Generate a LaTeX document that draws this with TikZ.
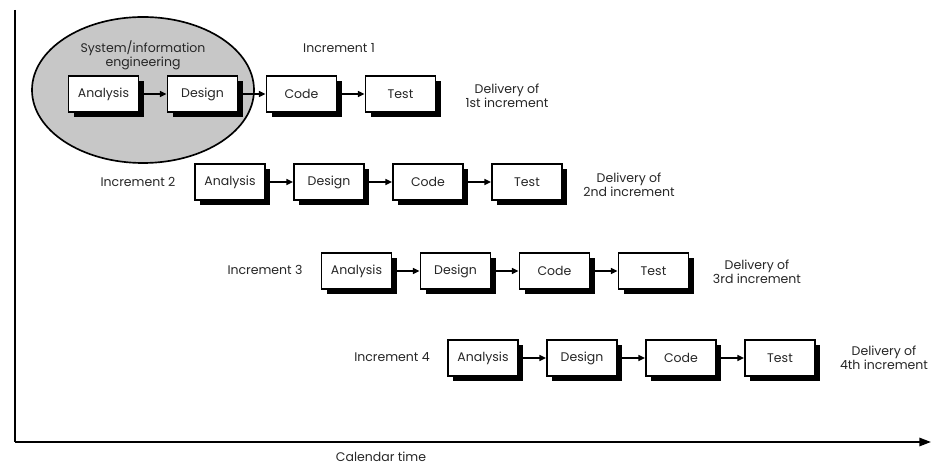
\documentclass[tikz,border=0pt]{standalone}
\usepackage{fontspec}
\setmainfont{Poppins}
\usetikzlibrary{arrows.meta,shadows}

\begin{document}
\begin{tikzpicture}[%
      x=0.6pt, y=-0.6pt,
      every node/.style={font=\fontsize{7.5}{8.5}\selectfont, text=black!85},
      phase/.style={draw=black, line width=1.1pt, fill=white, minimum width=42pt,
        minimum height=22pt, inner sep=0pt,
        drop shadow={shadow xshift=3pt, shadow yshift=-3pt, fill=black, opacity=1}},
      flow/.style={line width=1pt, -{Triangle[length=4pt,width=3.5pt]}},
      ]
      \useasboundingbox (0,0) rectangle (933,464);

      \coordinate (ytop) at (15,10);
      \coordinate (origin) at (15,442);
      \coordinate (xend) at (931,442);
      \draw [line width=1.2pt] (ytop) -- (origin);
      \draw [line width=1.2pt, -{Triangle[length=7pt,width=5pt]}] (origin) -- (xend);
      \node (caltime) at (381,457) {Calendar time};

      \filldraw [fill=black!22, draw=black, line width=1pt] (143,90) ellipse [x radius=111, y radius=73];
      \node [align=center] (sysinfo) at (143,55) {System/information\\engineering};

      \node (inc1) at (339,48) {Increment 1};
      \node [phase] (a1) at (103.5,94) {Analysis};
      \node [phase] (d1) at (202.5,94) {Design};
      \node [phase] (c1) at (301.5,94) {Code};
      \node [phase] (t1) at (400.5,94) {Test};
      \node [align=center] (del1) at (507,96) {Delivery of\\1st increment};
      \draw [flow] (a1) -- (d1);
      \draw [flow] (d1) -- (c1);
      \draw [flow] (c1) -- (t1);

      \node (inc2) at (138,182) {Increment 2};
      \node [phase] (a2) at (230,182) {Analysis};
      \node [phase] (d2) at (329,182) {Design};
      \node [phase] (c2) at (428,182) {Code};
      \node [phase] (t2) at (527,182) {Test};
      \node [align=center] (del2) at (629,185) {Delivery of\\2nd increment};
      \draw [flow] (a2) -- (d2);
      \draw [flow] (d2) -- (c2);
      \draw [flow] (c2) -- (t2);

      \node (inc3) at (265,270) {Increment 3};
      \node [phase] (a3) at (356.5,271) {Analysis};
      \node [phase] (d3) at (455.5,271) {Design};
      \node [phase] (c3) at (554.5,271) {Code};
      \node [phase] (t3) at (653.5,271) {Test};
      \node [align=center] (del3) at (757,272) {Delivery of\\3rd increment};
      \draw [flow] (a3) -- (d3);
      \draw [flow] (d3) -- (c3);
      \draw [flow] (c3) -- (t3);

      \node (inc4) at (392,357) {Increment 4};
      \node [phase] (a4) at (483,358) {Analysis};
      \node [phase] (d4) at (582,358) {Design};
      \node [phase] (c4) at (681,358) {Code};
      \node [phase] (t4) at (780,358) {Test};
      \node [align=center] (del4) at (884,358) {Delivery of\\4th increment};
      \draw [flow] (a4) -- (d4);
      \draw [flow] (d4) -- (c4);
      \draw [flow] (c4) -- (t4);
\end{tikzpicture}
\end{document}
